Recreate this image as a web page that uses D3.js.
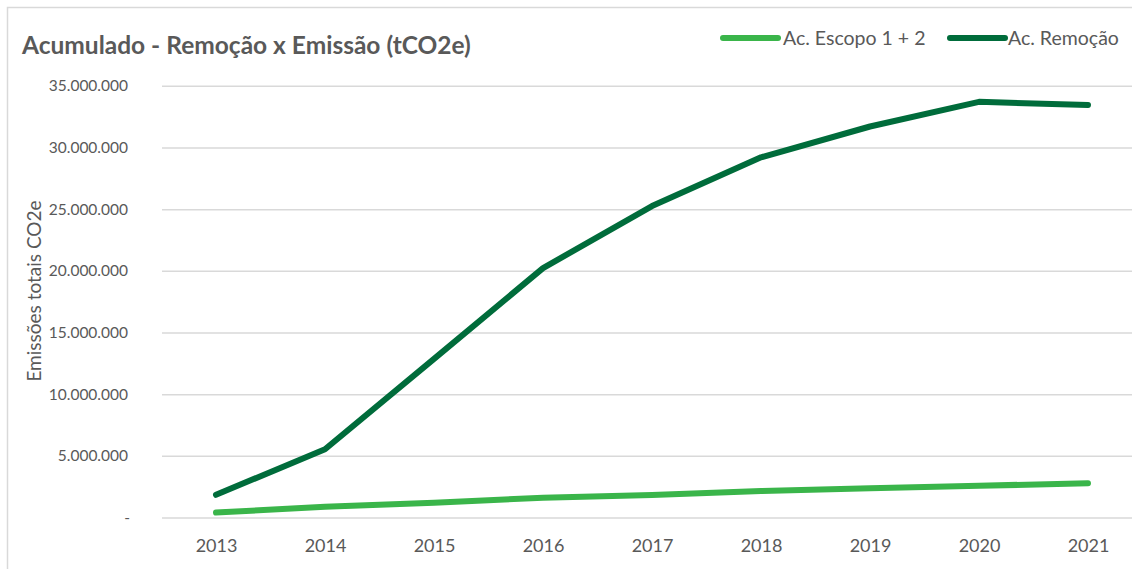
<!DOCTYPE html>
<html><head><meta charset="utf-8">
<script src="https://cdn.jsdelivr.net/npm/d3@7"></script>
<style>html,body{margin:0;padding:0;background:#fff;}svg{display:block;}</style>
</head><body>
<svg id="c" width="1132" height="569"></svg>
<script>
const years = ["2013","2014","2015","2016","2017","2018","2019","2020","2021"];
const escopo = [400000, 880000, 1200000, 1600000, 1830000, 2150000, 2380000, 2570000, 2780000];
const remocao = [1840000, 5530000, 12860000, 20220000, 25250000, 29200000, 31700000, 33700000, 33450000];
const yTicks = [0, 5000000, 10000000, 15000000, 20000000, 25000000, 30000000, 35000000];
const seriesNames = ["Ac. Escopo 1 + 2", "Ac. Remoção"];
const seriesColors = ["#3AB54A", "#006C3B"];
const title = "Acumulado - Remoção x Emissão (tCO2e)";
const yTitle = "Emissões totais CO2e";

const FONT = "Lato, 'Open Sans', sans-serif";
const TXT = "#595959";
const svg = d3.select("#c");

svg.append("rect").attr("x",7.5).attr("y",7.5).attr("width",1200).attr("height",600)
  .attr("fill","#fff").attr("stroke","#d9d9d9").attr("stroke-width",1.5);

const x = d3.scalePoint().domain(years).range([216, 1088]);
const y = d3.scaleLinear().domain([0, 35000000]).range([517.5, 85.8]);

const loc = d3.formatLocale({decimal:",", thousands:".", grouping:[3], currency:["",""]});
const fmt = v => v === 0 ? "-" : loc.format(",.0f")(v);

// gridlines
const yAxis = d3.axisLeft(y).tickValues(yTicks).tickSize(-(1132-162)).tickFormat(fmt).tickPadding(34);
const gy = svg.append("g").attr("transform","translate(162,0)").call(yAxis);
gy.select(".domain").remove();
gy.selectAll(".tick line").attr("stroke","#d9d9d9").attr("stroke-width",1.5);
gy.selectAll(".tick text").attr("fill",TXT).style("font-family",FONT).style("font-size","15.5px")
  .attr("x", d => d === 0 ? -32 : -34);

// x axis labels
const xAxis = d3.axisBottom(x).tickSize(0).tickPadding(22);
const gx = svg.append("g").attr("transform","translate(0,517.5)").call(xAxis);
gx.select(".domain").remove();
gx.selectAll(".tick text").attr("fill",TXT).style("font-family",FONT).style("font-size","18px");

// lines
const line = d3.line().x((d,i)=>x(years[i])).y(d=>y(d));
[escopo, remocao].forEach((s,k)=>{
  svg.append("path").datum(s).attr("d",line).attr("fill","none")
    .attr("stroke",seriesColors[k]).attr("stroke-width",6)
    .attr("stroke-linecap","round").attr("stroke-linejoin","round");
});

// title
svg.append("text").attr("x",22).attr("y",54).text(title)
  .attr("fill",TXT).style("font-family",FONT).style("font-weight","bold").style("font-size","24.5px");

// y axis title
svg.append("text").attr("transform","translate(41,291) rotate(-90)").attr("text-anchor","middle")
  .text(yTitle).attr("fill",TXT).style("font-family",FONT).style("font-size","19px");

// legend
const legX = [[723,778,783],[950,1005,1008]];
seriesNames.forEach((n,k)=>{
  svg.append("line").attr("x1",legX[k][0]).attr("x2",legX[k][1]).attr("y1",38).attr("y2",38)
    .attr("stroke",seriesColors[k]).attr("stroke-width",6).attr("stroke-linecap","round");
  svg.append("text").attr("x",legX[k][2]).attr("y",45).text(n)
    .attr("fill",TXT).style("font-family",FONT).style("font-size","19.5px");
});
</script>
</body></html>
